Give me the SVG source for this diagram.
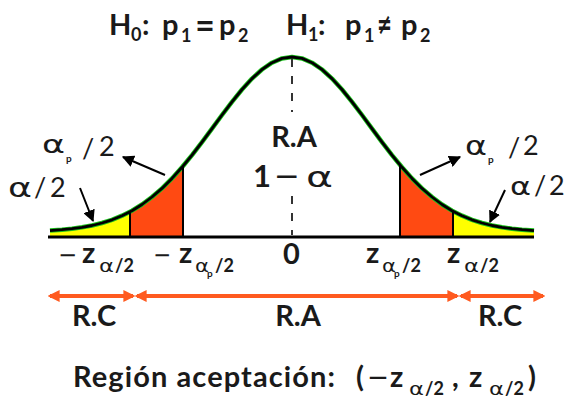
<svg xmlns="http://www.w3.org/2000/svg" width="577" height="399" viewBox="0 0 577 399">
<style>
  text { font-family: Lato, "Liberation Sans", "DejaVu Sans", sans-serif; fill: #1a1a1a; }
  .big { font-size: 29px; font-weight: bold; }
  .sub { font-size: 18px; font-weight: bold; }
  .lab { font-size: 27px; }
  .tiny { font-size: 10px; font-weight: bold; }
  .m { font-family: "DejaVu Sans", "Noto Sans", sans-serif; }
  .vline { stroke: #000; stroke-width: 2; }
  .arr { stroke: #000; stroke-width: 2; fill: none; marker-end: url(#ah); }
  .rng { stroke: #FF5A1F; stroke-width: 4; fill: none; marker-start: url(#oh); marker-end: url(#oh); }
</style>
<defs>
  <marker id="ah" viewBox="0 0 10 10" refX="9" refY="5" markerWidth="6" markerHeight="6" markerUnits="strokeWidth" orient="auto">
    <path d="M0,0 L10,5 L0,10 Z" fill="#000"/>
  </marker>
  <marker id="oh" viewBox="0 0 10 10" refX="8" refY="5" markerWidth="3" markerHeight="3" markerUnits="strokeWidth" orient="auto-start-reverse">
    <path d="M0,0 L10,5 L0,10 Z" fill="#FF5A1F"/>
  </marker>
</defs>
<rect width="577" height="399" fill="#fff"/>

<g id="areas">
  <path d="M50,237 L50,230.6 52,230.5 62,229.7 72,228.7 82,227.3 92,225.5 102,223 112,219.8 122,215.7 130,211.7 L130,237 Z" fill="#FFFF00"/>
  <path d="M130,237 L130,211.7 132,210.7 142,204.5 152,197 162,188.4 172,178.4 182,167.3 183,166.1 L183,237 Z" fill="#FF4A12"/>
  <path d="M400,237 L400,164.9 402,167.3 412,178.4 422,188.4 432,197 442,204.5 452,210.7 453,211.2 L453,237 Z" fill="#FF4A12"/>
  <path d="M453,237 L453,211.2 462,215.7 472,219.8 482,223 492,225.5 502,227.3 512,228.7 522,229.7 532,230.5 534,230.6 L534,237 Z" fill="#FFFF00"/>
</g>

<g id="curve">
  <polyline points="50,230.6 62,229.7 72,228.7 82,227.3 92,225.5 102,223 112,219.8 122,215.7 132,210.7 142,204.5 152,197 162,188.4 172,178.4 182,167.3 192,155.1 202,142.1 212,128.6 222,115 232,101.8 242,89.5 252,78.6 262,69.5 272,62.7 282,58.4 292,57 302,58.4 312,62.7 322,69.5 332,78.6 342,89.5 352,101.8 362,115 372,128.6 382,142.1 392,155.1 402,167.3 412,178.4 422,188.4 432,197 442,204.5 452,210.7 462,215.7 472,219.8 482,223 492,225.5 502,227.3 512,228.7 522,229.7 534,230.6" fill="none" stroke="#1BC41B" stroke-width="4.5" stroke-linejoin="round"/>
  <polyline points="50,230.6 62,229.7 72,228.7 82,227.3 92,225.5 102,223 112,219.8 122,215.7 132,210.7 142,204.5 152,197 162,188.4 172,178.4 182,167.3 192,155.1 202,142.1 212,128.6 222,115 232,101.8 242,89.5 252,78.6 262,69.5 272,62.7 282,58.4 292,57 302,58.4 312,62.7 322,69.5 332,78.6 342,89.5 352,101.8 362,115 372,128.6 382,142.1 392,155.1 402,167.3 412,178.4 422,188.4 432,197 442,204.5 452,210.7 462,215.7 472,219.8 482,223 492,225.5 502,227.3 512,228.7 522,229.7 534,230.6" fill="none" stroke="#000" stroke-width="2.8" stroke-linejoin="round"/>
</g>

<g id="axis">
  <line x1="48" y1="237" x2="534" y2="237" stroke="#000" stroke-width="3"/>
  <line x1="292" y1="59" x2="292" y2="112" stroke="#333" stroke-width="2" stroke-dasharray="8,9"/>
  <line x1="292" y1="196" x2="292" y2="235" stroke="#333" stroke-width="2" stroke-dasharray="8,9"/>
  <line class="vline" x1="130" y1="237" x2="130" y2="212"/>
  <line class="vline" x1="183" y1="237" x2="183" y2="166"/>
  <line class="vline" x1="400" y1="237" x2="400" y2="165"/>
  <line class="vline" x1="453" y1="237" x2="453" y2="211"/>
</g>

<g id="connectors">
  <line class="arr" x1="165" y1="175" x2="123" y2="157"/>
  <line class="arr" x1="80" y1="188" x2="93" y2="221"/>
  <line class="arr" x1="420" y1="175" x2="460" y2="157"/>
  <line class="arr" x1="505" y1="190" x2="490" y2="222"/>
  <line class="rng" x1="50" y1="296" x2="133" y2="296"/>
  <line class="rng" x1="137" y1="296" x2="457" y2="296"/>
  <line class="rng" x1="461" y1="296" x2="543" y2="296"/>
</g>

<g id="hypotheses">
  <text class="big" x="109" y="35">H</text>
  <text class="sub" x="131" y="41">0</text>
  <text class="big" x="142" y="35">:</text>
  <text class="big" x="162" y="35">p</text>
  <text class="sub" x="181" y="42">1</text>
  <text class="big m" x="195" y="35" font-size="26" textLength="20" lengthAdjust="spacingAndGlyphs">=</text>
  <text class="big" x="219" y="35">p</text>
  <text class="sub" x="238" y="42">2</text>
  <text class="big" x="286" y="35">H</text>
  <text class="sub" x="308" y="41">1</text>
  <text class="big" x="318" y="35">:</text>
  <text class="big" x="345" y="35">p</text>
  <text class="sub" x="364" y="42">1</text>
  <text class="big m" x="377" y="34" font-size="21" textLength="15" lengthAdjust="spacingAndGlyphs">≠</text>
  <text class="big" x="401" y="35">p</text>
  <text class="sub" x="420" y="42">2</text>
</g>

<g id="center-label">
  <text class="big" x="294" y="147" text-anchor="middle" font-size="30">R.A</text>
  <text x="253" y="187" font-size="31" font-weight="bold">1</text>
  <text class="m" x="274" y="187" font-size="32" textLength="26" lengthAdjust="spacingAndGlyphs">−</text>
  <text class="m" x="306" y="187" font-size="28" textLength="27" lengthAdjust="spacingAndGlyphs">α</text>
</g>

<g id="left-labels">
  <text class="m" x="42" y="153" font-size="24" textLength="23" lengthAdjust="spacingAndGlyphs">α</text>
  <text class="tiny" x="66" y="162">p</text>
  <text class="lab" x="82" y="158">/</text>
  <text class="lab" x="99" y="156">2</text>
  <text class="m" x="8" y="197" font-size="27" textLength="24" lengthAdjust="spacingAndGlyphs">α</text>
  <text class="lab" x="34" y="197">/</text>
  <text class="lab" x="50" y="197">2</text>
</g>

<g id="right-labels">
  <text class="m" x="465" y="155" font-size="26" textLength="22" lengthAdjust="spacingAndGlyphs">α</text>
  <text class="tiny" x="488" y="163">p</text>
  <text class="lab" x="508" y="157">/</text>
  <text class="lab" x="523" y="155">2</text>
  <text class="m" x="510" y="195" font-size="25" textLength="21" lengthAdjust="spacingAndGlyphs">α</text>
  <text class="lab" x="534" y="195">/</text>
  <text class="lab" x="549" y="195">2</text>
</g>

<g id="ticks">
  <text class="m" x="58" y="263" font-size="24" textLength="19" lengthAdjust="spacingAndGlyphs">−</text>
  <text class="big" x="82" y="263">z</text>
  <text class="m" x="99" y="272" font-size="18" textLength="15" lengthAdjust="spacingAndGlyphs">α</text>
  <text class="sub" x="115" y="272">/2</text>
  <text class="m" x="153" y="263" font-size="24" textLength="18" lengthAdjust="spacingAndGlyphs">−</text>
  <text class="big" x="179" y="263">z</text>
  <text class="m" x="195" y="272" font-size="18" textLength="14" lengthAdjust="spacingAndGlyphs">α</text>
  <text class="tiny" x="207" y="277" font-size="9">p</text>
  <text class="sub" x="215" y="272">/2</text>
  <text class="big" x="283" y="264" font-size="26">0</text>
  <text class="big" x="366" y="263">z</text>
  <text class="m" x="382" y="272" font-size="18" textLength="14" lengthAdjust="spacingAndGlyphs">α</text>
  <text class="tiny" x="394" y="277" font-size="9">p</text>
  <text class="sub" x="402" y="272">/2</text>
  <text class="big" x="447" y="263">z</text>
  <text class="m" x="464" y="272" font-size="18" textLength="15" lengthAdjust="spacingAndGlyphs">α</text>
  <text class="sub" x="480" y="272">/2</text>
</g>

<g id="regions">
  <text class="big" x="94" y="326" text-anchor="middle">R.C</text>
  <text class="big" x="298" y="326" text-anchor="middle">R.A</text>
  <text class="big" x="500" y="326" text-anchor="middle">R.C</text>
</g>

<g id="acceptance">
  <text class="big" x="73" y="387" textLength="262">Región aceptación:</text>
  <text class="big" x="356" y="387">(</text>
  <text class="m" x="367" y="386" font-size="26" textLength="22" lengthAdjust="spacingAndGlyphs">−</text>
  <text class="big" x="390" y="387">z</text>
  <text class="m" x="409" y="395" font-size="18" textLength="15" lengthAdjust="spacingAndGlyphs">α</text>
  <text class="sub" x="425" y="395">/2</text>
  <text class="big" x="452" y="387">,</text>
  <text class="big" x="469" y="387">z</text>
  <text class="m" x="489" y="395" font-size="18" textLength="15" lengthAdjust="spacingAndGlyphs">α</text>
  <text class="sub" x="505" y="395">/2</text>
  <text class="big" x="528" y="387">)</text>
</g>
</svg>
